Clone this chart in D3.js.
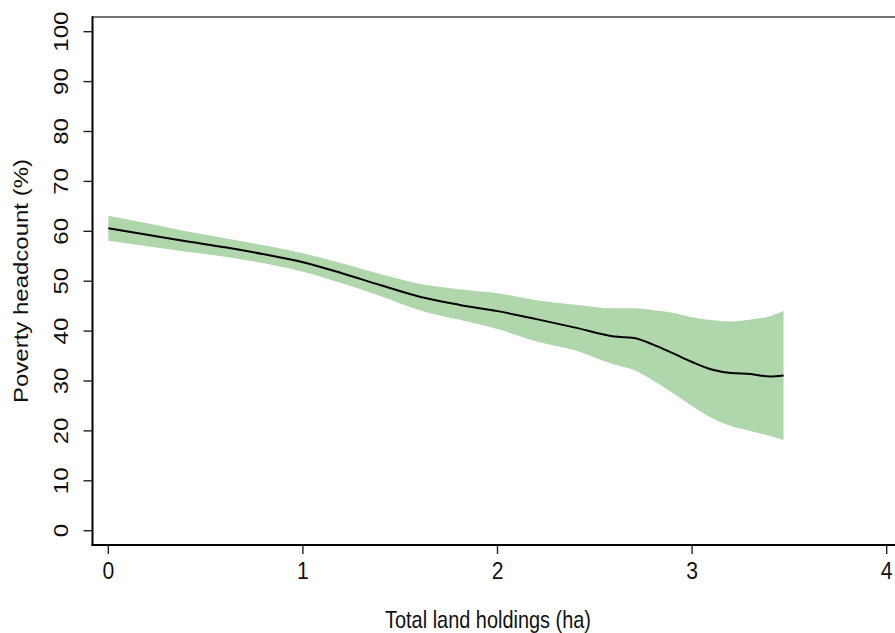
<!DOCTYPE html>
<html>
<head>
<meta charset="utf-8">
<script src="https://cdn.jsdelivr.net/npm/d3@7"></script>
<style>
  html, body { margin: 0; padding: 0; background: #fff; }
  svg { display: block; }
  text { font-family: "Liberation Sans", Arial, sans-serif; fill: #111; }
</style>
</head>
<body>
<svg id="chart" width="895" height="633"></svg>
<script>
// ---- data ----
const landHa   = [0, 0.2, 0.4, 0.6, 0.8, 1.0, 1.2, 1.4, 1.6, 1.8, 2.0, 2.2, 2.4, 2.6, 2.7, 2.8, 2.9, 3.0, 3.1, 3.2, 3.3, 3.4, 3.47];
const poverty  = [60.6, 59.3, 58.0, 56.8, 55.4, 53.8, 51.6, 49.2, 46.9, 45.3, 44.0, 42.4, 40.7, 38.9, 38.6, 37.3, 35.6, 33.8, 32.3, 31.6, 31.4, 30.9, 31.1];
const ciUpper  = [63.1, 61.6, 60.0, 58.6, 57.2, 55.6, 53.6, 51.4, 49.5, 48.4, 47.6, 46.2, 45.3, 44.6, 44.6, 44.2, 43.7, 42.8, 42.2, 41.9, 42.3, 43.0, 44.1];
const ciLower  = [58.1, 57.0, 55.9, 54.9, 53.6, 51.9, 49.6, 47.0, 44.2, 42.3, 40.4, 37.9, 36.1, 33.3, 32.2, 30.1, 27.6, 25.0, 22.6, 21.0, 20.0, 19.0, 18.2];
const xTicks   = [0, 1, 2, 3, 4];
const yTicks   = [0, 10, 20, 30, 40, 50, 60, 70, 80, 90, 100];
const xTitle   = "Total land holdings (ha)";
const yTitle   = "Poverty headcount (%)";

// ---- layout ----
const svg = d3.select("#chart");
const axisX = 92.5;   // left axis line
const axisY = 545;    // bottom axis line
const topY  = 17;
const squeeze = 0.88; // horizontal glyph compression seen in the reference
const fontSize = 24;

const x = d3.scaleLinear().domain([0, 4]).range([108.3, 886.7]);
const y = d3.scaleLinear().domain([0, 100]).range([530.7, 31.7]);

const rows = landHa.map((v, i) => ({ x: v, y: poverty[i], lo: ciLower[i], hi: ciUpper[i] }));

// band
svg.append("path")
  .datum(rows)
  .attr("fill", "#b0d6ac")
  .attr("d", d3.area().x(d => x(d.x)).y0(d => y(d.lo)).y1(d => y(d.hi)).curve(d3.curveMonotoneX));

// line
svg.append("path")
  .datum(rows)
  .attr("fill", "none")
  .attr("stroke", "#000")
  .attr("stroke-width", 2)
  .attr("d", d3.line().x(d => x(d.x)).y(d => y(d.y)).curve(d3.curveMonotoneX));

// frame lines
svg.append("line").attr("x1", axisX).attr("x2", 895).attr("y1", topY).attr("y2", topY)
  .attr("stroke", "#444").attr("stroke-width", 1.6);
svg.append("line").attr("x1", axisX).attr("x2", axisX).attr("y1", topY - 0.8).attr("y2", axisY + 1)
  .attr("stroke", "#000").attr("stroke-width", 2);
svg.append("line").attr("x1", axisX - 1).attr("x2", 895).attr("y1", axisY).attr("y2", axisY)
  .attr("stroke", "#000").attr("stroke-width", 2);

// y ticks
const yAxisG = svg.append("g");
yAxisG.selectAll("line").data(yTicks).join("line")
  .attr("x1", axisX - 9).attr("x2", axisX).attr("y1", d => y(d)).attr("y2", d => y(d))
  .attr("stroke", "#222").attr("stroke-width", 1.4);
yAxisG.selectAll("text").data(yTicks).join("text")
  .attr("transform", d => `translate(68,${y(d)}) rotate(-90) scale(1,${squeeze})`)
  .attr("text-anchor", "middle")
  .attr("font-size", fontSize)
  .text(d => d);

// x ticks
const xAxisG = svg.append("g");
xAxisG.selectAll("line").data(xTicks).join("line")
  .attr("x1", d => x(d)).attr("x2", d => x(d)).attr("y1", axisY).attr("y2", axisY + 9)
  .attr("stroke", "#222").attr("stroke-width", 1.4);
xAxisG.selectAll("text").data(xTicks).join("text")
  .attr("transform", d => `translate(${x(d)},578.5) scale(${squeeze},1)`)
  .attr("text-anchor", "middle")
  .attr("font-size", fontSize)
  .text(d => d);

// titles
svg.append("text")
  .attr("transform", `translate(488,628) scale(0.83,1)`)
  .attr("text-anchor", "middle")
  .attr("font-size", fontSize)
  .text(xTitle);
svg.append("text")
  .attr("transform", `translate(28,281) rotate(-90) scale(1,${squeeze})`)
  .attr("text-anchor", "middle")
  .attr("font-size", fontSize)
  .text(yTitle);
</script>
</body>
</html>
